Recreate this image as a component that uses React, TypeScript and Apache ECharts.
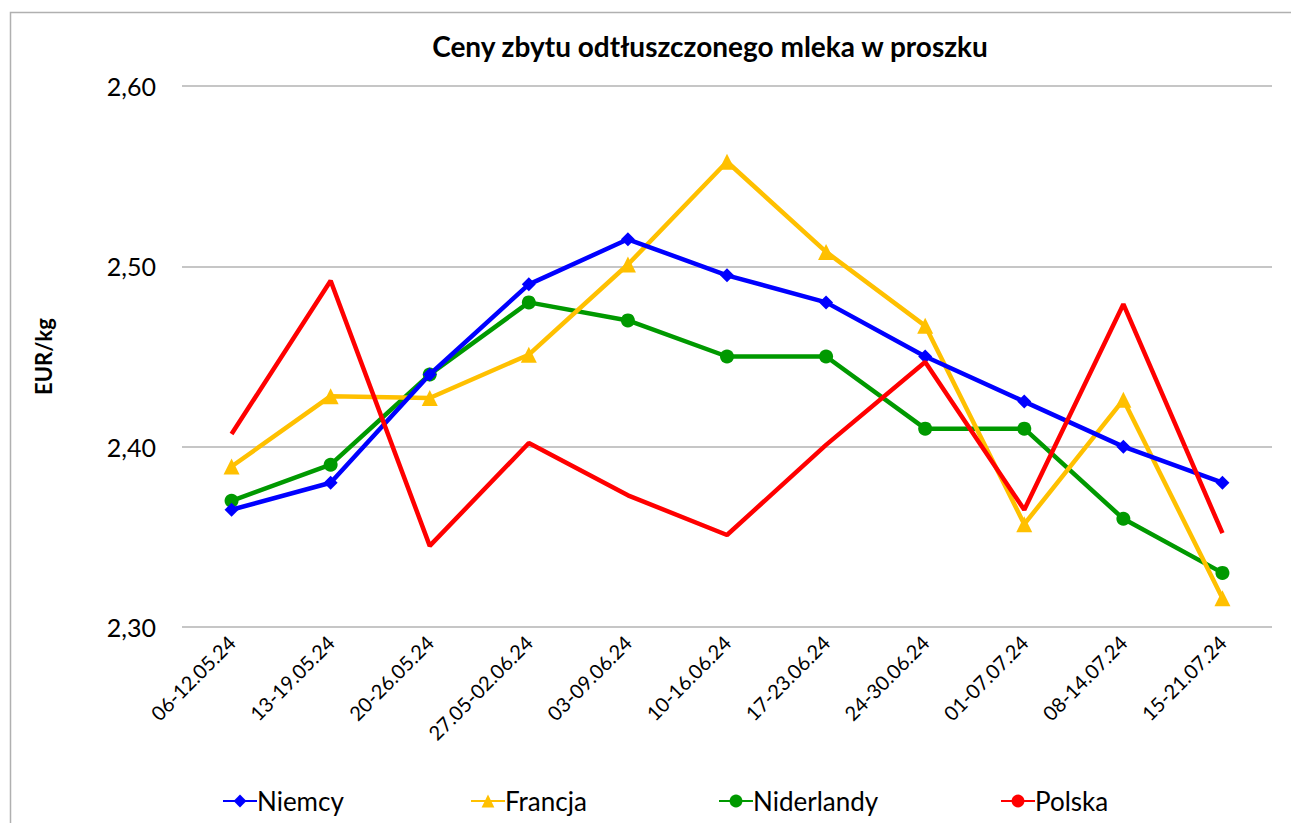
import React, { useEffect, useRef } from "react";
import * as echarts from "echarts";

const categories = [
  "06-12.05.24",
  "13-19.05.24",
  "20-26.05.24",
  "27.05-02.06.24",
  "03-09.06.24",
  "10-16.06.24",
  "17-23.06.24",
  "24-30.06.24",
  "01-07.07.24",
  "08-14.07.24",
  "15-21.07.24",
];

const niemcy = [2.365, 2.38, 2.44, 2.49, 2.515, 2.495, 2.48, 2.45, 2.425, 2.4, 2.38];
const francja = [2.389, 2.428, 2.427, 2.451, 2.501, 2.558, 2.508, 2.467, 2.357, 2.426, 2.316];
const niderlandy = [2.37, 2.39, 2.44, 2.48, 2.47, 2.45, 2.45, 2.41, 2.41, 2.36, 2.33];
const polska = [2.407, 2.492, 2.345, 2.402, 2.373, 2.351, 2.401, 2.447, 2.365, 2.479, 2.352];

const seriesNames = ["Niemcy", "Francja", "Niderlandy", "Polska"];
const yMin = 2.3;
const yMax = 2.6;
const yInterval = 0.1;

const FONT = "Lato, 'Open Sans', sans-serif";

export default function App() {
  const ref = useRef<HTMLDivElement>(null);

  useEffect(() => {
    if (!ref.current) return;
    const chart = echarts.init(ref.current, undefined, { renderer: "svg" });
    const legendLefts = [222, 470, 718, 1000];
    chart.setOption({
      animation: false,
      backgroundColor: "#ffffff",
      textStyle: { fontFamily: FONT },
      title: {
        text: "Ceny zbytu odtłuszczonego mleka w proszku",
        left: 705,
        textAlign: "center",
        top: 27,
        textStyle: { fontFamily: FONT, fontSize: 28, fontWeight: "bold", color: "#000" },
      },
      graphic: [
        {
          type: "rect",
          shape: { x: 10.5, y: 12.5, width: 1400, height: 1000 },
          style: { fill: "none", stroke: "#b0b0b0", lineWidth: 1.5 },
          silent: true,
        },
      ],
      legend: seriesNames.map((n, i) => ({
        data: [n],
        left: legendLefts[i],
        top: 786,
        padding: 0,
        itemWidth: 34,
        itemHeight: 16,
        textStyle: {
          fontFamily: FONT,
          fontSize: 26,
          lineHeight: 30,
          color: "#000",
          padding: [0, 0, 0, -5],
        },
      })),
      grid: { left: 182, right: 19, top: 86, bottom: 196, containLabel: false },
      xAxis: {
        type: "category",
        data: categories,
        boundaryGap: true,
        axisLine: { show: false },
        axisTick: { show: false },
        axisLabel: {
          rotate: 45,
          interval: 0,
          fontFamily: FONT,
          fontSize: 20,
          color: "#000",
          margin: 12,
        },
      },
      yAxis: {
        type: "value",
        min: yMin,
        max: yMax,
        interval: yInterval,
        name: "EUR/kg",
        nameLocation: "middle",
        nameGap: 128,
        nameRotate: 90,
        nameTextStyle: { fontFamily: FONT, fontSize: 22, fontWeight: "bold", color: "#000" },
        axisLine: { show: false },
        axisTick: { show: false },
        splitLine: { lineStyle: { color: "#b3b3b3", width: 1.5 } },
        axisLabel: {
          fontFamily: FONT,
          fontSize: 25,
          color: "#000",
          margin: 26,
          formatter: (v: number) => v.toFixed(2).replace(".", ","),
        },
      },
      series: [
        {
          name: "Niemcy",
          type: "line",
          data: niemcy,
          color: "#0000ff",
          lineStyle: { width: 4.5, color: "#0000ff" },
          symbol: "diamond",
          symbolSize: 14,
          itemStyle: { color: "#0000ff" },
          z: 4,
        },
        {
          name: "Francja",
          type: "line",
          data: francja,
          color: "#ffc000",
          lineStyle: { width: 4.5, color: "#ffc000" },
          symbol: "triangle",
          symbolSize: 16,
          itemStyle: { color: "#ffc000" },
          z: 3,
        },
        {
          name: "Niderlandy",
          type: "line",
          data: niderlandy,
          color: "#009900",
          lineStyle: { width: 4.5, color: "#009900" },
          symbol: "circle",
          symbolSize: 14,
          itemStyle: { color: "#009900" },
          z: 2,
        },
        {
          name: "Polska",
          type: "line",
          data: polska,
          color: "#ff0000",
          lineStyle: { width: 4.5, color: "#ff0000" },
          symbol: "none",
          itemStyle: { color: "#ff0000" },
          z: 5,
        },
      ],
    });
    return () => chart.dispose();
  }, []);

  return (
    <div
      ref={ref}
      style={{ position: "fixed", left: 0, top: 0, width: 1291, height: 823 }}
    />
  );
}
